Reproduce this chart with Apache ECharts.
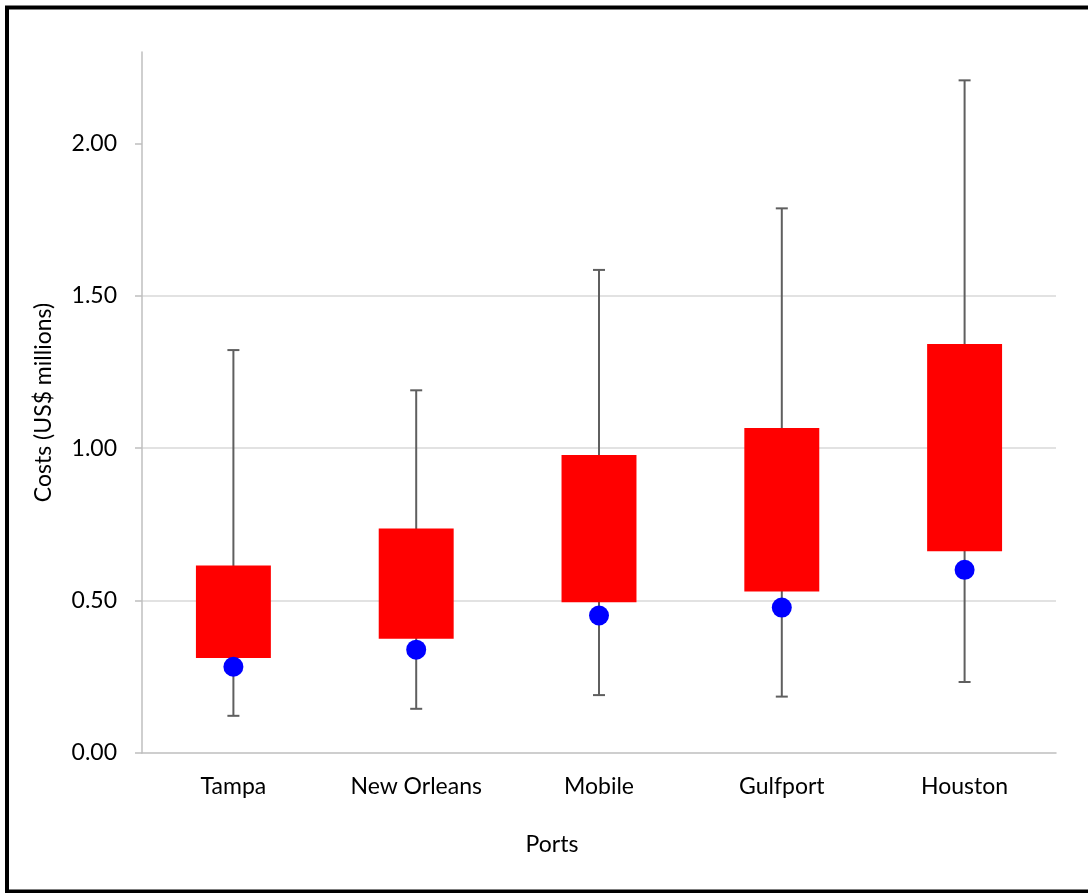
<!DOCTYPE html>
<html>
<head>
<meta charset="utf-8">
<title>Port costs</title>
<script src="https://cdn.jsdelivr.net/npm/echarts@6/dist/echarts.min.js"></script>
<style>
  html, body { margin: 0; padding: 0; background: #fff; }
  #chart { width: 1088px; height: 893px; }
</style>
</head>
<body>
<div id="chart"></div>
<script>
// Ports on the x axis
const ports = ['Tampa', 'New Orleans', 'Mobile', 'Gulfport', 'Houston'];
// Whisker ends (US$ millions)
const whiskerLow = [0.122, 0.145, 0.19, 0.185, 0.233];
const whiskerHigh = [1.322, 1.19, 1.585, 1.787, 2.207];
// Box edges (US$ millions)
const boxLow = [0.312, 0.375, 0.495, 0.53, 0.662];
const boxHigh = [0.615, 0.737, 0.978, 1.066, 1.342];
// Blue point per port (US$ millions)
const pointValues = [0.283, 0.339, 0.451, 0.477, 0.601];
// Y tick labels
const yTicks = [0, 0.5, 1.0, 1.5, 2.0];

const FONT = 'Lato';
const FONT_SIZE = 23;

const boxData = ports.map((p, i) => [i, whiskerLow[i], boxLow[i], boxHigh[i], whiskerHigh[i]]);
const pointData = ports.map((p, i) => [i, pointValues[i]]);

function renderBox(params, api) {
  const x = api.value(0);
  const pLow = api.coord([x, api.value(1)]);
  const pQ1 = api.coord([x, api.value(2)]);
  const pQ3 = api.coord([x, api.value(3)]);
  const pHigh = api.coord([x, api.value(4)]);
  const band = api.size([1, 0])[0];
  const bw = band * 0.41;
  const cap = 6;
  const lineStyle = { stroke: '#5f5f5f', lineWidth: 2 };
  return {
    type: 'group',
    children: [
      { type: 'line', shape: { x1: pHigh[0], y1: pHigh[1], x2: pLow[0], y2: pLow[1] }, style: lineStyle },
      { type: 'line', shape: { x1: pHigh[0] - cap, y1: pHigh[1], x2: pHigh[0] + cap, y2: pHigh[1] }, style: lineStyle },
      { type: 'line', shape: { x1: pLow[0] - cap, y1: pLow[1], x2: pLow[0] + cap, y2: pLow[1] }, style: lineStyle },
      { type: 'rect', shape: { x: pQ3[0] - bw / 2, y: pQ3[1], width: bw, height: pQ1[1] - pQ3[1] }, style: { fill: '#ff0000' } }
    ]
  };
}

const chart = echarts.init(document.getElementById('chart'), null, { renderer: 'canvas' });
chart.setOption({
  animation: false,
  backgroundColor: '#ffffff',
  grid: { left: 142, right: 32, top: 52, bottom: 140, containLabel: false },
  xAxis: {
    type: 'category',
    data: ports,
    axisLine: { show: true, lineStyle: { color: '#bfbfbf', width: 1.5 } },
    axisTick: { show: false },
    axisLabel: { color: '#000', fontFamily: FONT, fontSize: FONT_SIZE, margin: 22 },
    splitLine: { show: false },
    name: 'Ports',
    nameLocation: 'middle',
    nameGap: 80,
    nameTextStyle: { color: '#000', fontFamily: FONT, fontSize: FONT_SIZE, padding: [0, 94, 0, 0] }
  },
  yAxis: {
    type: 'value',
    min: 0,
    max: 2.3,
    interval: 0.5,
    axisLine: { show: true, lineStyle: { color: '#bfbfbf', width: 1.5 } },
    axisTick: { show: true, inside: false, length: 7, lineStyle: { color: '#bfbfbf', width: 1.5 }, customValues: yTicks },
    axisLabel: {
      color: '#000', fontFamily: FONT, fontSize: FONT_SIZE, margin: 25,
      customValues: yTicks,
      formatter: v => v.toFixed(2)
    },
    splitLine: { show: true, showMaxLine: false, showMinLine: false, lineStyle: { color: '#d9d9d9', width: 1.5 } },
    name: 'Costs (US$ millions)',
    nameLocation: 'middle',
    nameGap: 87,
    nameRotate: 90,
    nameTextStyle: { color: '#000', fontFamily: FONT, fontSize: FONT_SIZE }
  },
  series: [
    {
      type: 'custom',
      renderItem: renderBox,
      data: boxData,
      encode: { x: 0, y: [1, 2, 3, 4] },
      z: 2
    },
    {
      type: 'scatter',
      data: pointData,
      symbol: 'circle',
      symbolSize: 20,
      itemStyle: { color: '#0000ff', opacity: 1 },
      z: 3
    }
  ],
  graphic: [
    {
      type: 'rect',
      silent: true,
      shape: { x: 7, y: 7.5, width: 1110, height: 884 },
      style: { fill: null, stroke: '#000', lineWidth: 4 },
      z: 100
    }
  ]
});
</script>
</body>
</html>
